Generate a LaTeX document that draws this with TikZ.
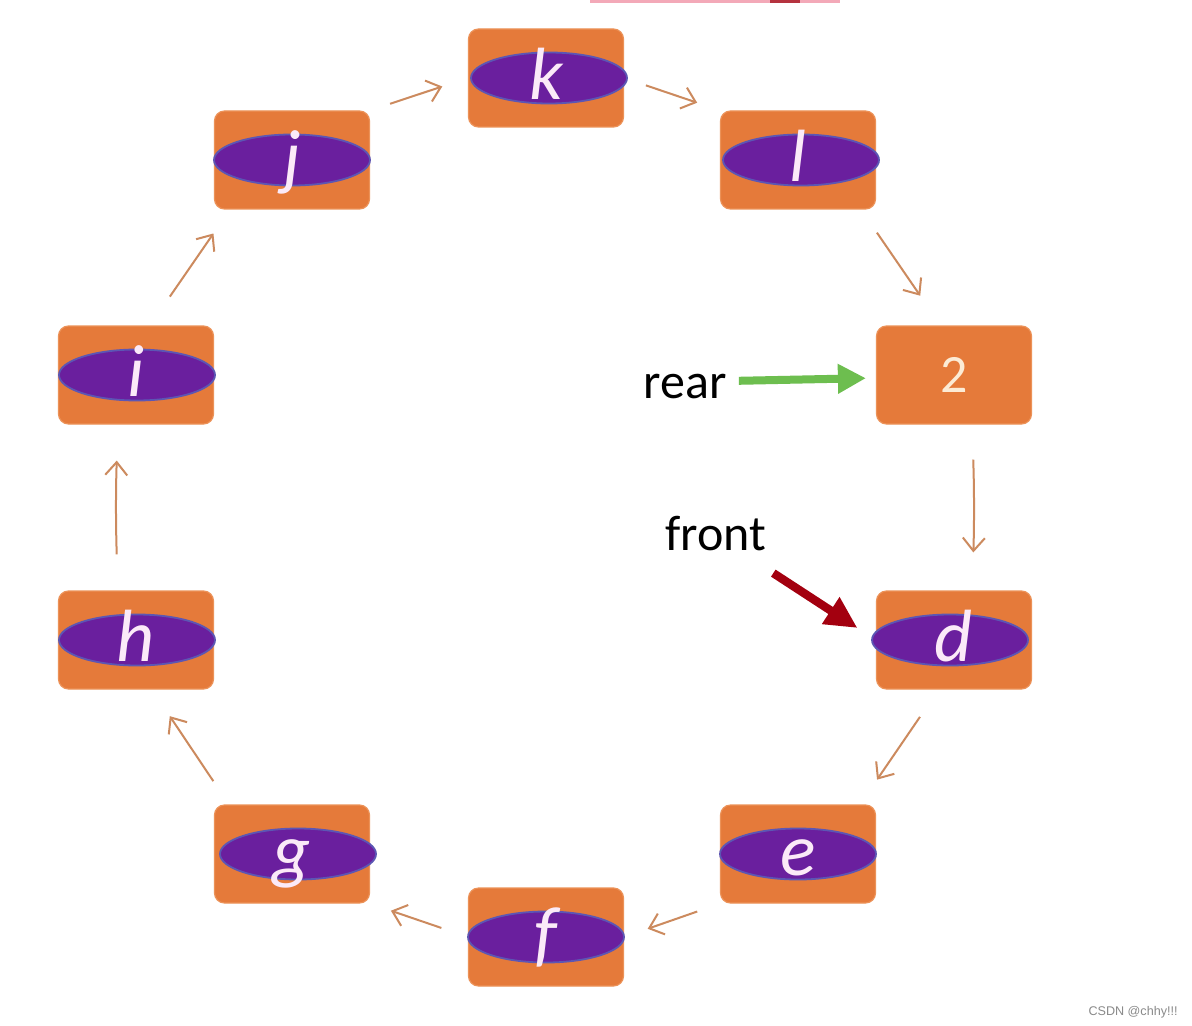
\documentclass[tikz,border=0pt]{standalone}
\usepackage{fontspec}
\setmainfont{Carlito}
\newfontfamily\markfont{Liberation Sans}
\usetikzlibrary{arrows.meta,shapes.geometric}
\definecolor{boxorange}{HTML}{E57A3A}
\definecolor{boxedge}{HTML}{EC9258}
\definecolor{blobpurple}{HTML}{6A1F9E}
\definecolor{blobedge}{HTML}{5C56B4}
\definecolor{letterwhite}{HTML}{FBEAF8}
\definecolor{digitcream}{HTML}{FCEBD5}
\definecolor{linkbrown}{HTML}{CC8A5E}
\definecolor{pointergreen}{HTML}{6DBE4F}
\definecolor{pointerred}{HTML}{A3000F}
\definecolor{markgray}{HTML}{8A8A8A}
\definecolor{smearpink}{HTML}{F3A9B8}

\begin{document}
\begin{tikzpicture}[x={(0.5pt,0pt)}, y={(0pt,-0.5pt)},
cell/.style ={rectangle, rounded corners=5pt, fill=boxorange, draw=boxedge,
  line width=0.6pt, minimum width=77.5pt, minimum height=49pt, inner sep=0pt},
blob/.style ={ellipse, fill=blobpurple, draw=blobedge, line width=0.9pt,
  minimum width=78pt, minimum height=25.5pt, inner sep=0pt},
letter/.style ={text=letterwhite, font=\fontsize{37}{37}\selectfont\itshape,
  text height=25pt, text depth=3.6pt, inner sep=0pt},
link/.style ={draw=linkbrown, line width=1pt, -{Straight Barb[length=6.5pt,width=11pt]}},
pointer/.style ={line width=4pt, -{Triangle[length=14pt,width=14pt]}},
tag/.style ={font=\fontsize{25}{25}\selectfont, inner sep=0pt, anchor=base west}]
\fill[white] (0,0) rectangle (1192,1026);
\useasboundingbox (0,0) rectangle (1192,1026);
\fill[smearpink] (590,0) rectangle (840,3);
\fill[pointerred!80] (770,0) rectangle (800,3);
% the ring of cells
\foreach \n/\x/\y/\dx in {k/546/78/3, j/292/160/0, l/798/160/3, i/136/375/1,
  d/954/640/-4, h/136/640/1, g/292/854/6, e/798/854/0, f/546/937/0}{
  \node[cell] (\n) at (\x,\y) {};
  \node[blob] (\n-o) at ([xshift=\dx*0.5pt]\n.center) {};
  \node[letter] (\n-t) at (\n.center) {\n};
}
\node[cell, text=digitcream, font=\fontsize{27}{27}\selectfont] (two) at (954,375) {2};
% links round the ring
\draw[link, shorten <=10.5pt, shorten >=13.5pt] (j.north east) -- (k.west);
\draw[link, shorten <=11.5pt, shorten >=12pt] (k.east) -- (l.north west);
\draw[link, shorten <=14pt, shorten >=18pt] ([xshift=-7.5pt]l.south east) -- ([xshift=-6.7pt]two.north);
\draw[link, shorten <=17.5pt, shorten >=19pt] ([xshift=9pt]two.south) to[bend left=2] ([xshift=9pt]d.north);
\draw[link, shorten <=16.5pt, shorten >=15pt] ([xshift=-7.7pt]d.south) -- ([xshift=-8pt]e.north east);
\draw[link, shorten <=12pt, shorten >=12.5pt] (e.south west) -- (f.east);
\draw[link, shorten <=14pt, shorten >=11pt] (f.west) -- (g.south east);
\draw[link, shorten <=14pt, shorten >=16pt] ([xshift=7.5pt]g.north west) -- ([xshift=8pt]h.south);
\draw[link, shorten <=18pt, shorten >=18pt] ([xshift=-9pt]h.north) to[bend left=2] ([xshift=-9pt]i.south);
\draw[link, shorten <=17.5pt, shorten >=14.5pt] ([xshift=7pt]i.north) -- ([xshift=8pt]j.south west);
% rear and front
\node[tag] (rear) at (643,398) {rear};
\node[tag] (front) at (665,550) {front};
\draw[pointer, draw=pointergreen, shorten <=6pt, shorten >=5pt] ([yshift=2.5pt]rear.east) -- ([yshift=-1.5pt]two.west);
\draw[pointer, draw=pointerred, line width=4.2pt, -{Triangle[length=16pt,width=15pt]},
  shorten <=4pt, shorten >=11pt] ([yshift=-9pt]front.south east) -- (d.west);
\node[font=\markfont\fontsize{6.3}{7}\selectfont, text=markgray, anchor=base east,
  inner sep=0pt] (mark) at (1178,1015) {CSDN @chhy!!!};
\end{tikzpicture}
\end{document}
